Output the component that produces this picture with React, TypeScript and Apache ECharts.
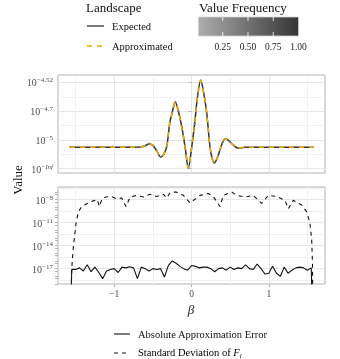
import React, { useEffect, useRef } from 'react';
import * as echarts from 'echarts';

const FONT = '"Liberation Serif", "DejaVu Serif", serif';

// ---- Top panel: landscape (values in units of 1e-5) ----
const betaTop = [-1.5708, -1.2, -0.9, -0.7, -0.65, -0.6, -0.545, -0.5, -0.45, -0.4, -0.36, -0.32, -0.28, -0.25, -0.21, -0.17, -0.127, -0.08, -0.041, 0.0, 0.04, 0.08, 0.119, 0.16, 0.197, 0.239, 0.265, 0.295, 0.33, 0.369, 0.4, 0.434, 0.47, 0.5, 0.55, 0.6, 0.65, 0.7, 1.0, 1.3, 1.5708];
const expectedE5 = [0.75, 0.75, 0.75, 0.75, 0.76, 0.8, 0.87, 0.81, 0.62, 0.41, 0.5, 0.78, 1.62, 1.95, 2.32, 2.0, 1.47, 0.7, 0.02, 0.7, 1.55, 2.55, 3.07, 2.6, 1.93, 0.77, 0.38, 0.2, 0.35, 0.66, 0.9, 1.03, 1.0, 0.93, 0.8, 0.72, 0.73, 0.75, 0.75, 0.75, 0.75];
const approximatedE5 = [0.75, 0.75, 0.75, 0.75, 0.76, 0.8, 0.87, 0.81, 0.62, 0.41, 0.5, 0.78, 1.62, 1.95, 2.32, 2.0, 1.47, 0.7, 0.02, 0.7, 1.55, 2.55, 3.07, 2.6, 1.93, 0.77, 0.38, 0.2, 0.35, 0.66, 0.9, 1.03, 1.0, 0.93, 0.8, 0.72, 0.73, 0.75, 0.75, 0.75, 0.75];
const topTicks = [0, 1, 2, 3];
const topMinor = [0.5, 1.5, 2.5];

// ---- Bottom panel: log10 of error and standard deviation ----
const betaErr = [-1.5708, -1.55, -1.5, -1.45, -1.4, -1.35, -1.3, -1.25, -1.2, -1.15, -1.1, -1.05, -1.0, -0.95, -0.9, -0.85, -0.8, -0.75, -0.7, -0.65, -0.6, -0.55, -0.5, -0.45, -0.4, -0.35, -0.3, -0.25, -0.2, -0.15, -0.1, -0.05, 0, 0.05, 0.1, 0.15, 0.2, 0.25, 0.3, 0.35, 0.4, 0.45, 0.5, 0.55, 0.6, 0.65, 0.7, 0.75, 0.8, 0.85, 0.9, 0.95, 1.0, 1.05, 1.1, 1.15, 1.2, 1.25, 1.3, 1.35, 1.4, 1.45, 1.5, 1.55, 1.5708];
const log10Err = [-25, -17.1, -17.1, -16.9, -17.3, -16.5, -17.4, -16.8, -17.5, -18.3, -17.3, -17.1, -17.0, -17.5, -16.8, -16.9, -16.75, -16.9, -18.3, -16.8, -17.0, -17.3, -17.0, -17.1, -17.0, -18.1, -16.6, -16.0, -16.3, -16.7, -17.0, -17.2, -16.6, -16.7, -16.9, -16.8, -16.8, -17.0, -17.4, -17.0, -16.9, -17.2, -16.8, -17.1, -16.9, -17.0, -16.5, -17.0, -17.1, -16.4, -17.0, -17.7, -17.6, -16.7, -17.6, -18.0, -16.8, -17.6, -17.2, -16.9, -16.8, -16.9, -17.2, -16.9, -25];
const betaSd = [-1.5708, -1.55, -1.53, -1.495, -1.465, -1.421, -1.385, -1.349, -1.279, -1.219, -1.193, -1.158, -1.107, -1.033, -0.968, -0.903, -0.848, -0.796, -0.709, -0.624, -0.537, -0.45, -0.365, -0.321, -0.278, -0.2, -0.106, -0.019, 0.11, 0.217, 0.282, 0.369, 0.412, 0.52, 0.585, 0.692, 0.8, 0.908, 0.994, 1.103, 1.21, 1.253, 1.317, 1.426, 1.491, 1.534, 1.556, 1.566, 1.5708];
const log10Sd = [-25, -17.0, -14.2, -11.1, -9.6, -8.9, -8.7, -8.5, -8.2, -8.0, -8.9, -7.9, -7.66, -7.6, -7.9, -7.8, -8.9, -7.7, -7.45, -7.66, -7.3, -7.6, -7.3, -7.8, -7.1, -7.0, -7.45, -8.44, -7.45, -7.2, -7.6, -8.9, -7.45, -7.0, -7.45, -7.66, -7.45, -8.5, -7.45, -7.6, -8.1, -9.2, -8.1, -8.7, -9.6, -11.1, -13.3, -16.3, -25];
const bottomTicks = [-17, -14, -11, -8];
const bottomMinor = [-18.5, -15.5, -12.5, -9.5, -6.5];
const bottomLogTicks = [-19, -18.3, -18, -17.3, -17, -16.3, -16, -15.3, -15, -14.3, -14, -13.3, -13, -12.3, -12, -11.3, -11, -10.3, -10, -9.3, -9, -8.3, -8, -7.3, -7, -6.3];

const xTicks = [-1, 0, 1];
const xMinor = [-1.5, -0.5, 0.5, 1.5];
const freqTicks = [0.25, 0.5, 0.75, 1.0];

const pairs = (xs: number[], ys: number[]) => xs.map((x, i) => [x, ys[i]]);

const LABEL = '#4d4d4d';
const GRID_MAJOR = '#e6e6e6';
const GRID_MINOR = '#f1f1f1';
const BORDER = '#b3b3b3';

const supRich = {
  b: { fontSize: 10, color: LABEL, fontFamily: FONT, verticalAlign: 'bottom', lineHeight: 11 },
  s: { fontSize: 7, color: LABEL, fontFamily: FONT, verticalAlign: 'top', lineHeight: 9 },
  si: { fontSize: 7, color: LABEL, fontFamily: FONT, fontStyle: 'italic', verticalAlign: 'top', lineHeight: 9 },
};

const fmtTop = (v: number) => {
  if (v === 0) return '{b|10}{s|\u2212}{si|Inf}';
  const e = parseFloat(Math.log10(v * 1e-5).toFixed(2));
  return `{b|10}{s|${String(e).replace('-', '\u2212')}}`;
};
const fmtBottom = (v: number) => `{b|10}{s|${String(v).replace('-', '\u2212')}}`;

const XMIN = -1.728;
const XMAX = 1.728;

function hiddenAxisBase() {
  return {
    axisLabel: { show: false },
    axisLine: { show: false },
  };
}

const CB_X = 198.5;
const CB_W = 100;
const CB_MIN = 0.01;
const cbX = (v: number) => CB_X + ((v - CB_MIN) / (1 - CB_MIN)) * CB_W;

export default function App() {
  const ref = useRef<HTMLDivElement>(null);
  useEffect(() => {
    const chart = echarts.init(ref.current!, null, { renderer: 'svg' });
    const option: any = {
      animation: false,
      textStyle: { fontFamily: FONT },
      grid: [
        { left: 58, top: 75, width: 267, height: 98, show: true, borderColor: BORDER, borderWidth: 1, backgroundColor: 'transparent' },
        { left: 58, top: 187, width: 267, height: 97, show: true, borderColor: BORDER, borderWidth: 1, backgroundColor: 'transparent' },
      ],
      xAxis: [
        {
          type: 'value', gridIndex: 0, min: XMIN, max: XMAX, ...hiddenAxisBase(),
          axisTick: { show: false, customValues: xTicks },
          splitLine: { show: true, lineStyle: { color: GRID_MAJOR, width: 1 } },
        },
        {
          type: 'value', gridIndex: 0, position: 'top', min: XMIN, max: XMAX, ...hiddenAxisBase(),
          axisTick: { show: false, customValues: xMinor },
          splitLine: { show: true, lineStyle: { color: GRID_MINOR, width: 1 } },
        },
        {
          type: 'value', gridIndex: 1, min: XMIN, max: XMAX,
          axisLine: { show: false },
          axisTick: { show: true, length: 3, customValues: xTicks, lineStyle: { color: BORDER } },
          axisLabel: {
            show: true, customValues: xTicks, margin: 5, fontSize: 9.5, color: LABEL, fontFamily: FONT,
            formatter: (v: number) => String(v).replace('-', '\u2212'),
          },
          splitLine: { show: true, lineStyle: { color: GRID_MAJOR, width: 1 } },
        },
        {
          type: 'value', gridIndex: 1, position: 'top', min: XMIN, max: XMAX, ...hiddenAxisBase(),
          axisTick: { show: false, customValues: xMinor },
          splitLine: { show: true, lineStyle: { color: GRID_MINOR, width: 1 } },
        },
      ],
      yAxis: [
        {
          type: 'value', gridIndex: 0, min: -0.15, max: 3.26,
          axisLine: { show: false },
          axisTick: { show: true, length: 3, customValues: topTicks, lineStyle: { color: BORDER } },
          axisLabel: { show: true, customValues: topTicks, margin: 5, formatter: fmtTop, rich: supRich },
          splitLine: { show: true, lineStyle: { color: GRID_MAJOR, width: 1 } },
        },
        {
          type: 'value', gridIndex: 0, position: 'right', min: -0.15, max: 3.26, ...hiddenAxisBase(),
          axisTick: { show: false, customValues: topMinor },
          splitLine: { show: true, lineStyle: { color: GRID_MINOR, width: 1 } },
        },
        {
          type: 'value', gridIndex: 1, min: -19, max: -6.36,
          axisLine: { show: false },
          axisTick: { show: false, customValues: bottomTicks },
          axisLabel: { show: true, customValues: bottomTicks, margin: 5, formatter: fmtBottom, rich: supRich },
          splitLine: { show: true, lineStyle: { color: GRID_MAJOR, width: 1 } },
        },
        {
          type: 'value', gridIndex: 1, position: 'right', min: -19, max: -6.36, ...hiddenAxisBase(),
          axisTick: { show: false, customValues: bottomMinor },
          splitLine: { show: true, lineStyle: { color: GRID_MINOR, width: 1 } },
        },
        {
          type: 'value', gridIndex: 1, position: 'left', offset: 0, min: -19, max: -6.36, ...hiddenAxisBase(),
          axisTick: { show: true, length: 3, customValues: bottomLogTicks, lineStyle: { color: BORDER } },
          splitLine: { show: false },
        },
      ],
      series: [
        {
          name: 'Expected', type: 'line', xAxisIndex: 0, yAxisIndex: 0,
          data: pairs(betaTop, expectedE5), smooth: 0.35, symbol: 'none', z: 3,
          lineStyle: { color: '#333333', width: 1.5 },
        },
        {
          name: 'Value Frequency', type: 'scatter', xAxisIndex: 0, yAxisIndex: 0,
          data: pairs(betaTop, expectedE5), symbolSize: 2, z: 4,
          itemStyle: { color: '#7a7a7a' },
        },
        {
          name: 'Approximated', type: 'line', xAxisIndex: 0, yAxisIndex: 0,
          data: pairs(betaTop, approximatedE5), smooth: 0.35, symbol: 'none', z: 5,
          lineStyle: { color: '#F5A800', width: 1.5, type: [5, 5] },
        },
        {
          name: 'Absolute Approximation Error', type: 'line', xAxisIndex: 2, yAxisIndex: 2,
          data: pairs(betaErr, log10Err), symbol: 'none', z: 3,
          lineStyle: { color: '#111111', width: 1.1 },
        },
        {
          name: 'Standard Deviation', type: 'line', xAxisIndex: 2, yAxisIndex: 2,
          data: pairs(betaSd, log10Sd), symbol: 'none', z: 3,
          lineStyle: { color: '#111111', width: 1.1, type: [4, 4] },
        },
      ],
      graphic: [
        // Landscape legend
        { type: 'text', x: 86, y: 7, style: { text: 'Landscape', font: `13px ${FONT}`, fill: '#111', verticalAlign: 'middle' } },
        { type: 'line', shape: { x1: 87, y1: 26, x2: 104, y2: 26 }, style: { stroke: '#333', lineWidth: 1.3 } },
        { type: 'text', x: 112, y: 26, style: { text: 'Expected', font: `10.5px ${FONT}`, fill: '#111', verticalAlign: 'middle' } },
        { type: 'line', shape: { x1: 87, y1: 46, x2: 104, y2: 46 }, style: { stroke: '#F5A800', lineWidth: 1.5, lineDash: [5, 5] } },
        { type: 'text', x: 112, y: 46, style: { text: 'Approximated', font: `10.5px ${FONT}`, fill: '#111', verticalAlign: 'middle' } },
        // Value Frequency colourbar
        { type: 'text', x: 199, y: 7, style: { text: 'Value Frequency', font: `13px ${FONT}`, fill: '#111', verticalAlign: 'middle' } },
        {
          type: 'rect', shape: { x: CB_X, y: 17, width: CB_W, height: 19 },
          style: {
            fill: new echarts.graphic.LinearGradient(0, 0, 1, 0, [
              { offset: 0, color: '#adadad' },
              { offset: 1, color: '#353535' },
            ]),
            stroke: '#d0d0d0', lineWidth: 0.8,
          },
        },
        ...freqTicks.filter((v) => v < 1).flatMap((v) => [
          { type: 'line', shape: { x1: cbX(v), y1: 17, x2: cbX(v), y2: 21 }, style: { stroke: '#ffffff', lineWidth: 0.8 } },
          { type: 'line', shape: { x1: cbX(v), y1: 32, x2: cbX(v), y2: 36 }, style: { stroke: '#ffffff', lineWidth: 0.8 } },
        ]),
        ...freqTicks.map((v) => ({
          type: 'text', x: cbX(v), y: 47,
          style: { text: v.toFixed(2), font: `9.5px ${FONT}`, fill: '#222', align: 'center', verticalAlign: 'middle' },
        })),
        // axis titles
        { type: 'text', x: 17, y: 180, rotation: Math.PI / 2, style: { text: 'Value', font: `13px ${FONT}`, fill: '#111', align: 'center', verticalAlign: 'middle' } },
        { type: 'text', x: 191, y: 309, style: { text: '\u03b2', font: `italic 13px ${FONT}`, fill: '#222', align: 'center', verticalAlign: 'middle' } },
        // bottom legend
        { type: 'line', shape: { x1: 114, y1: 334, x2: 130, y2: 334 }, style: { stroke: '#111', lineWidth: 1.1 } },
        { type: 'text', x: 138, y: 334, style: { text: 'Absolute Approximation Error', font: `10.5px ${FONT}`, fill: '#111', verticalAlign: 'middle' } },
        { type: 'line', shape: { x1: 114, y1: 353, x2: 130, y2: 353 }, style: { stroke: '#111', lineWidth: 1.1, lineDash: [4, 4] } },
        {
          type: 'text', x: 138, y: 353,
          style: {
            text: '{n|Standard Deviation of }{f|F}{i|i}',
            verticalAlign: 'middle',
            rich: {
              n: { fontSize: 10.5, fontFamily: FONT, color: '#111', verticalAlign: 'top', lineHeight: 12 },
              f: { fontSize: 10.5, fontFamily: FONT, fontStyle: 'italic', color: '#111', verticalAlign: 'top', lineHeight: 12 },
              i: { fontSize: 7, fontFamily: FONT, fontStyle: 'italic', color: '#111', verticalAlign: 'bottom', lineHeight: 8 },
            },
          },
        },
      ],
    };
    chart.setOption(option);
    return () => chart.dispose();
  }, []);
  return <div ref={ref} style={{ position: 'fixed', left: 0, top: 0, width: 340, height: 359 }} />;
}
